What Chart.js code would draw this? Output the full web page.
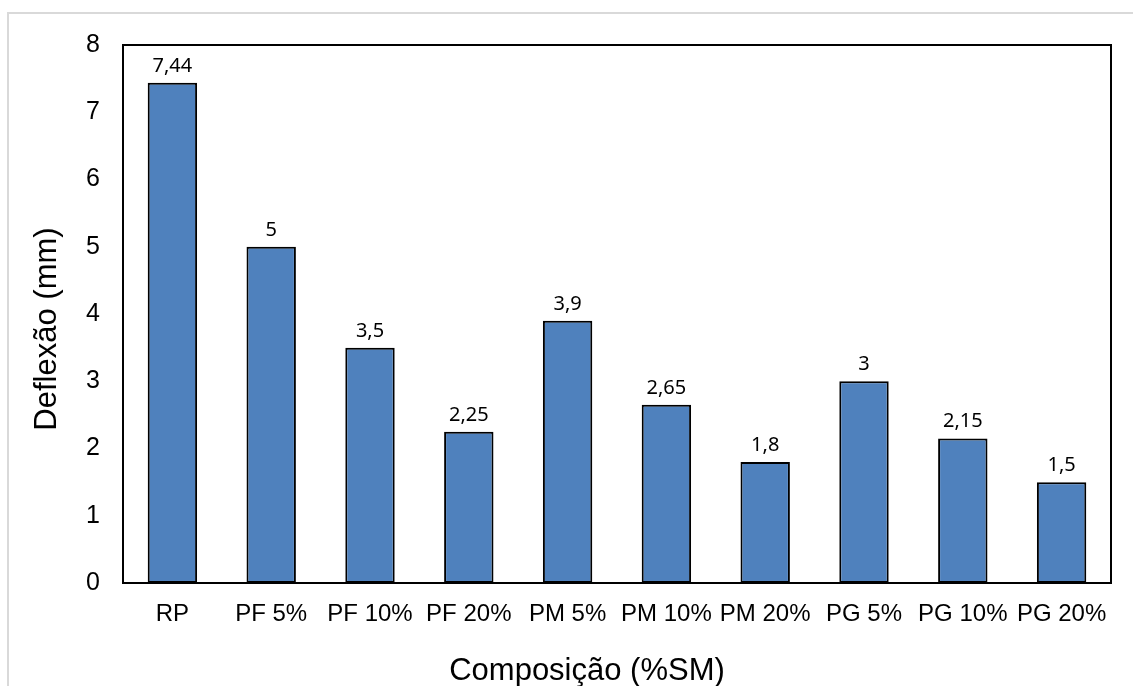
<!DOCTYPE html>
<html>
<head>
<meta charset="utf-8">
<script src="https://cdn.jsdelivr.net/npm/chart.js@4"></script>
<style>
  html, body { margin: 0; padding: 0; background: #ffffff; }
  #frame { position: absolute; left: 7px; top: 12px; right: 0; bottom: 0;
           border-left: 2px solid #d9d9d9; border-top: 2px solid #d9d9d9; }
  #wrap { position: absolute; left: 0; top: 0; width: 1133px; height: 686px; }
</style>
</head>
<body>
<div id="frame"></div>
<div id="wrap"><canvas id="c" width="1133" height="686"></canvas></div>
<script>
// Deflexão por composição
const categories = ['RP', 'PF 5%', 'PF 10%', 'PF 20%', 'PM 5%', 'PM 10%', 'PM 20%', 'PG 5%', 'PG 10%', 'PG 20%'];
const deflexao = [7.44, 5, 3.5, 2.25, 3.9, 2.65, 1.8, 3, 2.15, 1.5];
const yTicks = [0, 1, 2, 3, 4, 5, 6, 7, 8];

const AXIS_FONT = 'Arial, "Liberation Sans", sans-serif';
const LABEL_FONT = '"Noto Sans", "Open Sans", sans-serif';

function fmt(v) { return String(v).replace('.', ','); }

// Frame around plot area, value labels and axis titles
const decor = {
  id: 'decor',
  afterDraw(chart) {
    const ctx = chart.ctx;
    const a = chart.chartArea;
    ctx.save();
    ctx.strokeStyle = '#000';
    ctx.lineWidth = 2;
    ctx.strokeRect(a.left, a.top, a.right - a.left, a.bottom - a.top);

    // value labels above each bar
    const meta = chart.getDatasetMeta(0);
    ctx.fillStyle = '#000';
    ctx.font = '20px ' + LABEL_FONT;
    ctx.textAlign = 'center';
    ctx.textBaseline = 'alphabetic';
    meta.data.forEach((bar, i) => {
      ctx.fillText(fmt(deflexao[i]), bar.x, bar.y - 11);
    });

    // axis titles
    ctx.font = '31px ' + AXIS_FONT;
    ctx.fillStyle = '#000';
    ctx.textAlign = 'center';
    ctx.fillText('Composição (%SM)', 587, 680);

    ctx.translate(56, 329);
    ctx.rotate(-Math.PI / 2);
    ctx.font = '31px ' + AXIS_FONT;
    ctx.fillText('Deflexão (mm)', 0, 0);
    ctx.restore();
  }
};

new Chart(document.getElementById('c'), {
  type: 'bar',
  data: {
    labels: categories,
    datasets: [{
      data: deflexao,
      backgroundColor: '#4F81BD',
      borderColor: '#000000',
      borderWidth: 2,
      borderSkipped: false,
      barPercentage: 0.5,
      categoryPercentage: 1.0
    }]
  },
  options: {
    responsive: false,
    animation: false,
    devicePixelRatio: 1,
    layout: { padding: { top: 45, right: 22, left: 0, bottom: 0 } },
    plugins: { legend: { display: false }, tooltip: { enabled: false } },
    scales: {
      x: {
        grid: { display: false, drawTicks: false },
        border: { display: true, color: '#000', width: 2 },
        ticks: { color: '#000', font: { family: AXIS_FONT, size: 24 }, padding: 17, maxRotation: 0, autoSkip: false },
        afterFit(s) { s.height = 103; }
      },
      y: {
        min: 0, max: 8,
        afterBuildTicks(s) { s.ticks = yTicks.map(v => ({ value: v })); },
        grid: { display: false, drawTicks: false },
        border: { display: true, color: '#000', width: 2 },
        ticks: { color: '#000', font: { family: AXIS_FONT, size: 25 }, padding: 23 },
        afterFit(s) { s.width = 123; }
      }
    }
  },
  plugins: [decor]
});
</script>
</body>
</html>
